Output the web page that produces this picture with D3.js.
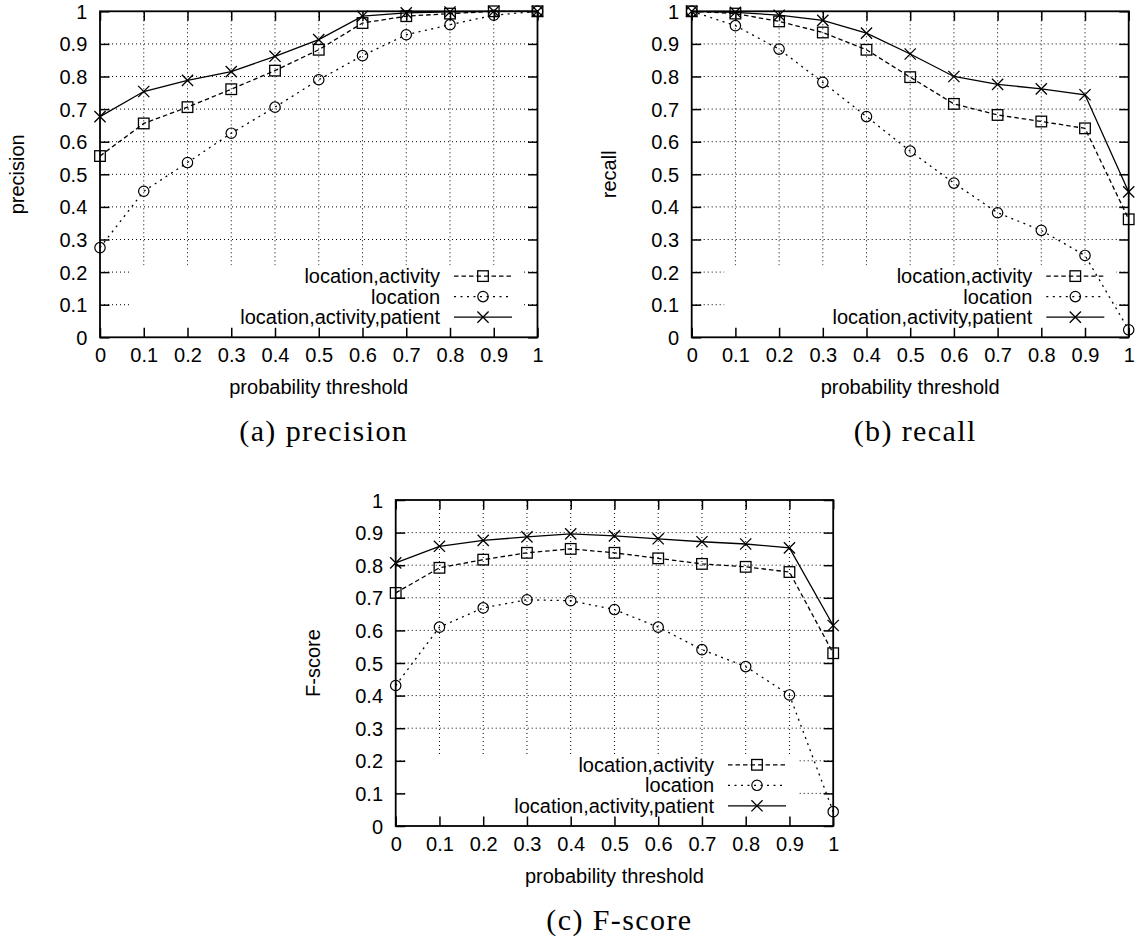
<!DOCTYPE html>
<html>
<head>
<meta charset="utf-8">
<script src="https://cdn.jsdelivr.net/npm/d3@7"></script>
<style>
  html, body { margin: 0; padding: 0; background: #fff; }
  svg { display: block; }
  .tick text { font-family: "Liberation Sans", Arial, sans-serif; font-size: 20px; fill: #000; }
  .lbl { font-family: "Liberation Sans", Arial, sans-serif; font-size: 20px; fill: #000; }
  .cap { font-family: "Liberation Serif", "Times New Roman", serif; font-size: 30px; letter-spacing: 1.4px; fill: #000; }
</style>
</head>
<body>
<svg id="fig" width="1140" height="943"></svg>
<script>
// Probability thresholds on the x axis and shared tick labels
const thresholds = [0, 0.1, 0.2, 0.3, 0.4, 0.5, 0.6, 0.7, 0.8, 0.9, 1];
const tickValues = [0, 0.1, 0.2, 0.3, 0.4, 0.5, 0.6, 0.7, 0.8, 0.9, 1];
const tickLabels = ["0", "0.1", "0.2", "0.3", "0.4", "0.5", "0.6", "0.7", "0.8", "0.9", "1"];
const seriesNames = ["location,activity", "location", "location,activity,patient"];

// Precision
const precisionLocAct    = [0.556, 0.656, 0.706, 0.761, 0.818, 0.882, 0.964, 0.985, 0.993, 1.000, 1.000];
const precisionLoc       = [0.275, 0.448, 0.536, 0.626, 0.706, 0.790, 0.864, 0.928, 0.959, 0.988, 1.000];
const precisionLocActPat = [0.677, 0.754, 0.788, 0.815, 0.862, 0.913, 0.985, 0.995, 0.998, 1.000, 1.000];

// Recall
const recallLocAct    = [1.000, 0.993, 0.969, 0.935, 0.882, 0.798, 0.716, 0.682, 0.662, 0.641, 0.362];
const recallLoc       = [1.000, 0.956, 0.884, 0.782, 0.677, 0.571, 0.473, 0.382, 0.328, 0.251, 0.023];
const recallLocActPat = [1.000, 0.997, 0.988, 0.972, 0.933, 0.869, 0.800, 0.776, 0.762, 0.744, 0.446];

// F-score
const fscoreLocAct    = [0.715, 0.792, 0.817, 0.838, 0.850, 0.838, 0.821, 0.804, 0.795, 0.779, 0.530];
const fscoreLoc       = [0.431, 0.610, 0.669, 0.694, 0.691, 0.664, 0.610, 0.541, 0.489, 0.402, 0.044];
const fscoreLocActPat = [0.807, 0.858, 0.876, 0.887, 0.896, 0.890, 0.881, 0.872, 0.865, 0.853, 0.615];

// Line style per series: dashed + squares, dotted + circles, solid + crosses
const styles = [
  { dash: "4.5,3", marker: "square" },
  { dash: "2,4.5", marker: "circle" },
  { dash: null,    marker: "cross" }
];

const panels = [
  { x0: 100,   x1: 537.5,  y0: 11.3, y1: 337.3, yTitle: "precision", caption: "(a) precision",
    series: [precisionLocAct, precisionLoc, precisionLocActPat], legendRight: 440 },
  { x0: 691.7, x1: 1128.7, y0: 11.3, y1: 337.3, yTitle: "recall", caption: "(b) recall",
    series: [recallLocAct, recallLoc, recallLocActPat], legendRight: 1032.3 },
  { x0: 395.7, x1: 833.2,  y0: 500,  y1: 826,   yTitle: "F-score", caption: "(c) F-score",
    series: [fscoreLocAct, fscoreLoc, fscoreLocActPat], legendRight: 714 }
];

const svg = d3.select("#fig");
svg.append("rect").attr("width", 1140).attr("height", 943).attr("fill", "#fff");

function drawMarker(sel, type, cx, cy) {
  if (type === "square") {
    sel.append("rect").attr("x", cx - 5.3).attr("y", cy - 5.3).attr("width", 10.6).attr("height", 10.6)
      .attr("fill", "none").attr("stroke", "#000").attr("stroke-width", 1.3);
  } else if (type === "circle") {
    sel.append("circle").attr("cx", cx).attr("cy", cy).attr("r", 5.2)
      .attr("fill", "none").attr("stroke", "#000").attr("stroke-width", 1.2);
  } else {
    const s = 5.6;
    sel.append("path")
      .attr("d", `M${cx - s},${cy - s}L${cx + s},${cy + s}M${cx - s},${cy + s}L${cx + s},${cy - s}`)
      .attr("fill", "none").attr("stroke", "#000").attr("stroke-width", 1.3);
  }
}

panels.forEach(p => {
  const g = svg.append("g");
  const x = d3.scaleLinear().domain([0, 1]).range([p.x0, p.x1]);
  const y = d3.scaleLinear().domain([0, 1]).range([p.y1, p.y0]);

  // dotted grid
  const inner = tickValues.filter(v => v > 0 && v < 1);
  const grid = g.append("g").attr("stroke", "#000").attr("stroke-width", 1).attr("stroke-dasharray", "1,3");
  inner.forEach(v => {
    grid.append("line").attr("x1", x(v)).attr("x2", x(v)).attr("y1", p.y1).attr("y2", p.y0);
    grid.append("line").attr("y1", y(v)).attr("y2", y(v)).attr("x1", p.x0).attr("x2", p.x1);
  });

  // grid is kept out of the key area
  const keyLeft = p.legendRight - 308, keyRight = p.legendRight + 84;
  g.append("rect").attr("x", keyLeft).attr("y", p.y1 - 72)
    .attr("width", keyRight - keyLeft).attr("height", 72).attr("fill", "#fff");

  // axes with inward ticks on all four sides
  const fmt = (d, i) => tickLabels[i];
  const axB = g.append("g").attr("transform", `translate(0,${p.y1})`)
    .call(d3.axisBottom(x).tickValues(tickValues).tickFormat(fmt).tickSize(-9.5).tickSizeOuter(0).tickPadding(10.5));
  const axL = g.append("g").attr("transform", `translate(${p.x0},0)`)
    .call(d3.axisLeft(y).tickValues(tickValues).tickFormat(fmt).tickSize(-9.5).tickSizeOuter(0).tickPadding(12.7));
  const axT = g.append("g").attr("transform", `translate(0,${p.y0})`)
    .call(d3.axisTop(x).tickValues(tickValues).tickFormat("").tickSize(-9.5).tickSizeOuter(0));
  const axR = g.append("g").attr("transform", `translate(${p.x1},0)`)
    .call(d3.axisRight(y).tickValues(tickValues).tickFormat("").tickSize(-9.5).tickSizeOuter(0));
  [axB, axL, axT, axR].forEach(a => {
    a.select(".domain").remove();
    a.selectAll(".tick line").attr("stroke", "#000").attr("stroke-width", 1.5);
    a.attr("font-family", null).attr("font-size", null);
  });
  axL.selectAll(".tick text").attr("dy", "0.35em");

  // plot border
  g.append("rect").attr("x", p.x0).attr("y", p.y0).attr("width", p.x1 - p.x0).attr("height", p.y1 - p.y0)
    .attr("fill", "none").attr("stroke", "#000").attr("stroke-width", 1.8);

  // series lines and markers
  const line = d3.line().x((d, i) => x(thresholds[i])).y(d => y(d));
  p.series.forEach((vals, si) => {
    const st = styles[si];
    g.append("path").attr("d", line(vals)).attr("fill", "none").attr("stroke", "#000")
      .attr("stroke-width", 1.3).attr("stroke-dasharray", st.dash);
    const mg = g.append("g");
    vals.forEach((v, i) => drawMarker(mg, st.marker, x(thresholds[i]), y(v)));
  });

  // key
  const rowOffsets = [61.2, 40.7, 20.2];
  seriesNames.forEach((name, si) => {
    const ry = p.y1 - rowOffsets[si];
    g.append("text").attr("class", "lbl").attr("x", p.legendRight).attr("y", ry).attr("dy", "0.35em")
      .attr("text-anchor", "end").text(name);
    g.append("line").attr("x1", p.legendRight + 14).attr("x2", p.legendRight + 72)
      .attr("y1", ry).attr("y2", ry).attr("stroke", "#000").attr("stroke-width", 1.3)
      .attr("stroke-dasharray", styles[si].dash);
    drawMarker(g, styles[si].marker, p.legendRight + 43, ry);
  });

  // axis titles
  g.append("text").attr("class", "lbl").attr("x", (p.x0 + p.x1) / 2).attr("y", p.y1 + 57)
    .attr("text-anchor", "middle").text("probability threshold");
  g.append("text").attr("class", "lbl")
    .attr("transform", `translate(${p.x0 - 76},${(p.y0 + p.y1) / 2}) rotate(-90)`)
    .attr("text-anchor", "middle").text(p.yTitle);

  // sub-figure caption
  g.append("text").attr("class", "cap").attr("x", (p.x0 + p.x1) / 2 + 5).attr("y", p.y1 + 103.5)
    .attr("text-anchor", "middle").text(p.caption);
});
</script>
</body>
</html>
